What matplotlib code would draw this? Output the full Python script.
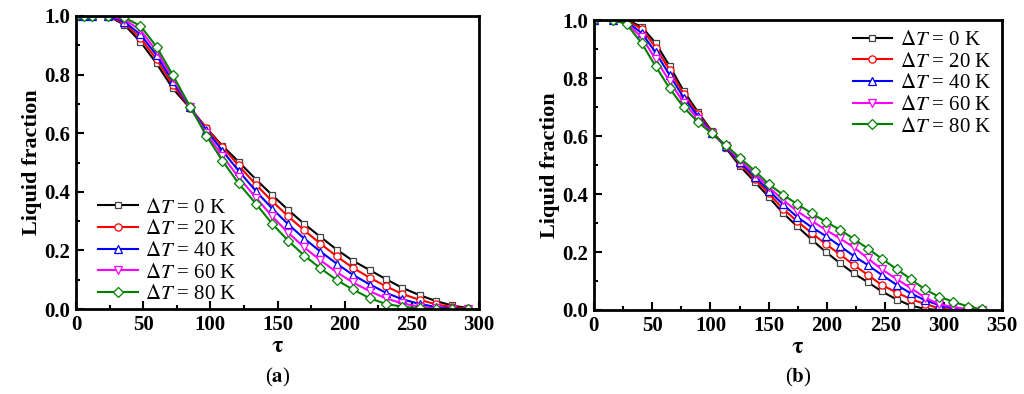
import matplotlib
matplotlib.use("Agg")
import matplotlib.pyplot as plt
from matplotlib.ticker import MultipleLocator

plt.rcParams['font.family'] = ['Liberation Serif', 'DejaVu Serif']
plt.rcParams['mathtext.fontset'] = 'stix'

# Panel (a)
tau_a = [0, 6, 12, 24, 36, 48, 60, 72, 85, 97, 109, 121, 134, 146, 158, 170,
         182, 194, 206, 219, 231, 243, 256, 268, 280, 292]
a_0K = [1, 1, 1, 1.0, 0.97, 0.912, 0.838, 0.753, 0.685, 0.618, 0.557, 0.503,
        0.442, 0.389, 0.338, 0.290, 0.246, 0.203, 0.165, 0.132, 0.101, 0.072,
        0.047, 0.027, 0.012, 0.003]
a_20K = [1, 1, 1, 1, 0.975, 0.925, 0.852, 0.765, 0.687, 0.617, 0.553, 0.49,
         0.424, 0.368, 0.316, 0.268, 0.223, 0.18, 0.141, 0.106, 0.077, 0.051,
         0.031, 0.016, 0.007, 0.001]
a_40K = [1, 1, 1, 1, 0.98, 0.937, 0.866, 0.777, 0.688, 0.61, 0.54, 0.472,
         0.402, 0.343, 0.289, 0.24, 0.196, 0.155, 0.117, 0.083, 0.055, 0.033,
         0.017, 0.007, 0.002, 0]
a_60K = [1, 1, 1, 1, 0.988, 0.952, 0.88, 0.788, 0.689, 0.6, 0.522, 0.45,
         0.38, 0.316, 0.26, 0.21, 0.166, 0.126, 0.091, 0.06, 0.036, 0.019,
         0.008, 0.002, 0, 0]
a_80K = [1, 1, 1, 1, 0.995, 0.966, 0.895, 0.799, 0.69, 0.592, 0.506, 0.429,
         0.359, 0.291, 0.233, 0.182, 0.139, 0.099, 0.067, 0.036, 0.017, 0.008,
         0.002, 0, 0, 0]

# Panel (b)
tau_b = [0, 16, 28, 41, 53, 65, 77, 89, 101, 113, 125, 138, 150, 162, 174,
         187, 199, 211, 223, 235, 247, 260, 272, 284, 296, 308, 321, 333]
b_0K = [1, 1, 1, 0.977, 0.92, 0.841, 0.755, 0.684, 0.618, 0.56, 0.497, 0.442,
        0.39, 0.335, 0.29, 0.242, 0.2, 0.162, 0.126, 0.096, 0.064, 0.036,
        0.015, 0.004, 0, 0, 0, 0]
b_20K = [1, 1, 0.998, 0.97, 0.905, 0.827, 0.745, 0.677, 0.615, 0.563, 0.505,
         0.452, 0.402, 0.35, 0.307, 0.265, 0.227, 0.192, 0.155, 0.121, 0.086,
         0.06, 0.037, 0.021, 0.006, 0, 0, 0]
b_40K = [1, 1, 0.995, 0.955, 0.888, 0.81, 0.732, 0.67, 0.612, 0.564, 0.51,
         0.46, 0.412, 0.365, 0.322, 0.285, 0.255, 0.221, 0.186, 0.155, 0.121,
         0.086, 0.057, 0.034, 0.017, 0.006, 0, 0]
b_60K = [1, 1, 0.99, 0.94, 0.865, 0.788, 0.715, 0.66, 0.61, 0.566, 0.518,
         0.47, 0.424, 0.38, 0.342, 0.307, 0.276, 0.247, 0.216, 0.178, 0.14,
         0.106, 0.075, 0.043, 0.02, 0.011, 0.002, 0]
b_80K = [1, 1, 0.986, 0.92, 0.84, 0.764, 0.699, 0.649, 0.609, 0.569, 0.525,
         0.48, 0.434, 0.398, 0.366, 0.333, 0.304, 0.277, 0.245, 0.212, 0.177,
         0.14, 0.106, 0.071, 0.046, 0.029, 0.012, 0.002]

labels = [r'$\Delta\mathit{T}$ = 0 K', r'$\Delta\mathit{T}$ = 20 K',
          r'$\Delta\mathit{T}$ = 40 K', r'$\Delta\mathit{T}$ = 60 K',
          r'$\Delta\mathit{T}$ = 80 K']
colors = ['black', 'red', 'blue', 'magenta', 'green']
markers = ['s', 'o', '^', 'v', 'D']
msizes = [4.8, 5.2, 5.2, 5.2, 4.6]


def draw_panel(ax, tau, series, xmax, legend_loc, anchor, letter):
    for y, lab, c, m, ms in zip(series, labels, colors, markers, msizes):
        ec = '#444444' if c == 'black' else c
        ax.plot(tau, y, color=c, lw=1.5, marker=m, ms=ms, mfc='white',
                mec=ec, mew=0.9, label=lab)
    ax.set_xlim(0, xmax)
    ax.set_ylim(0, 1.0)
    ax.xaxis.set_major_locator(MultipleLocator(50))
    ax.xaxis.set_minor_locator(MultipleLocator(25))
    ax.yaxis.set_major_locator(MultipleLocator(0.2))
    ax.yaxis.set_minor_locator(MultipleLocator(0.1))
    ax.tick_params(which='both', direction='in', top=False, right=False,
                   width=1.5, labelsize=15)
    ax.tick_params(which='major', length=6, pad=4)
    ax.tick_params(which='minor', length=3)
    for lbl in ax.get_xticklabels() + ax.get_yticklabels():
        lbl.set_fontweight('bold')
    for s in ax.spines.values():
        s.set_linewidth(2)
    ax.set_xlabel(r'$\mathbf{\tau}$', fontsize=17, labelpad=1)
    ax.set_ylabel('Liquid fraction', fontsize=16, fontweight='bold',
                  labelpad=2)
    ax.legend(loc=legend_loc, bbox_to_anchor=anchor, frameon=False,
              fontsize=15, handlelength=1.9, labelspacing=0.1,
              handletextpad=0.35, borderaxespad=0.2, borderpad=0.3)
    ax.text(0.5, -0.232, '(' + r'$\mathbf{' + letter + '}$' + ')',
            transform=ax.transAxes, ha='center', va='center', fontsize=15)


fig = plt.figure(figsize=(10.24, 3.94), dpi=100)
ax_a = fig.add_axes([0.0742, 0.2157, 0.3936, 0.7437])
ax_b = fig.add_axes([0.5800, 0.2132, 0.3984, 0.7360])

draw_panel(ax_a, tau_a, [a_0K, a_20K, a_40K, a_60K, a_80K], 300,
           'lower left', (0.03, -0.02), 'a')
draw_panel(ax_b, tau_b, [b_0K, b_20K, b_40K, b_60K, b_80K], 350,
           'upper right', (1.0, 1.0), 'b')

fig.savefig('out.png', dpi=100)
